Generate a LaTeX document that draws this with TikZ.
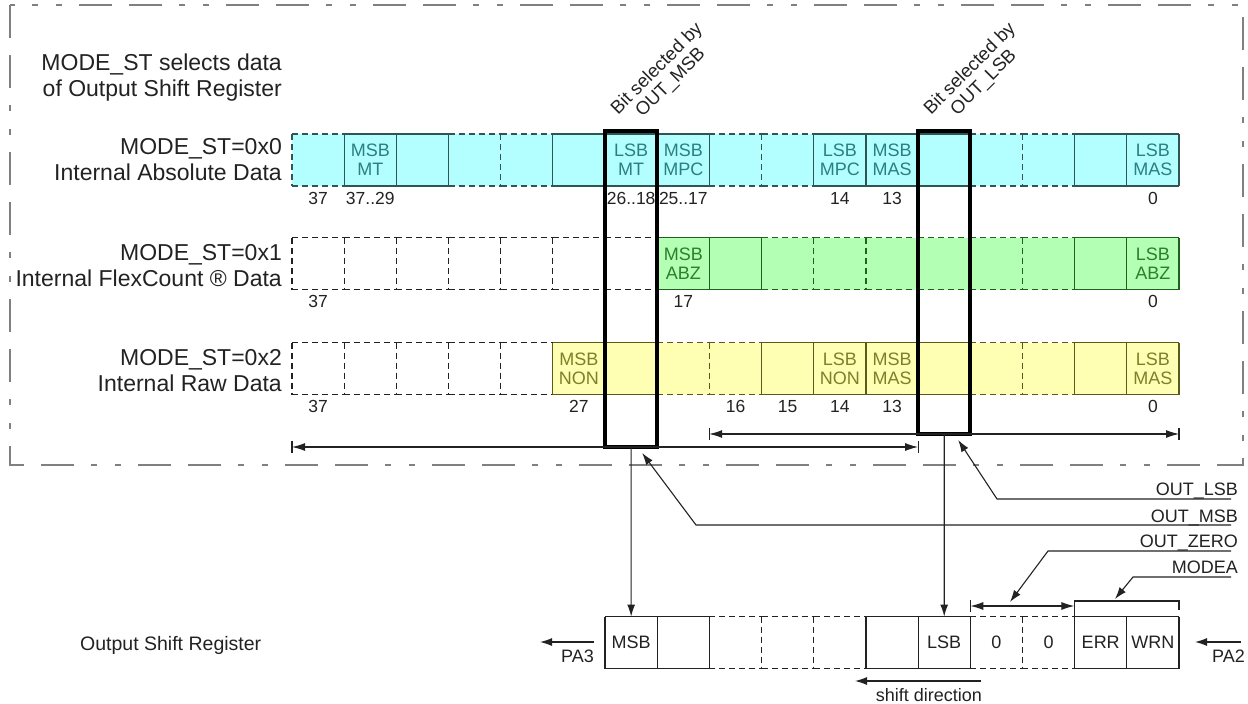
\documentclass[tikz,border=0pt]{standalone}
\usepackage{fontspec}
\setmainfont{Liberation Sans}
\usetikzlibrary{arrows.meta,calc}
\definecolor{cyanfill}{HTML}{B3FFFF}
\definecolor{cyanline}{HTML}{2F5555}
\definecolor{cyantext}{HTML}{2A7F80}
\definecolor{greenfill}{HTML}{B3FFB3}
\definecolor{greenline}{HTML}{1F601F}
\definecolor{greentext}{HTML}{2A7F2A}
\definecolor{yellowfill}{HTML}{FFFFB3}
\definecolor{yellowline}{HTML}{5A5A1A}
\definecolor{yellowtext}{HTML}{7F7F2A}
\definecolor{ink}{HTML}{222222}
\definecolor{framegray}{HTML}{808080}
\begin{document}
\begin{tikzpicture}[x=1pt,y=-1pt,
  every node/.style={text=ink},
  cell/.style={minimum width=52.1765pt, minimum height=52pt, inner sep=0pt, outer sep=0pt, draw=none},
  celltxt/.style={align=center, font=\fontsize{18}{19}\selectfont, inner sep=0pt},
  numlab/.style={font=\fontsize{17.5}{19}\selectfont, inner sep=0pt},
  leftlab/.style={font=\fontsize{23}{26}\selectfont, align=right, anchor=east, inner sep=0pt},
  leadtxt/.style={font=\fontsize{18}{19}\selectfont, anchor=base east, inner sep=0pt},
  bitsel/.style={font=\fontsize{18.5}{19.5}\selectfont, align=center, rotate=45, inner sep=0pt},
  dsh/.style={dash pattern=on 6pt off 4pt},
  celledge/.style={line width=1.2pt},
  selbox/.style={draw=black, line width=3.6pt, minimum width=52.1765pt, inner sep=0pt, outer sep=0pt},
  dimline/.style={draw=ink, line width=1.1pt},
  dimarr/.style={dimline, {Latex[length=13pt,width=8pt]}-{Latex[length=13pt,width=8pt]}},
  arr/.style={draw=ink, line width=1.1pt, -{Latex[length=12pt,width=8pt]}}
]
\useasboundingbox (0,0) rectangle (1248,704);

% frame
\draw[framegray, line width=1.2pt, dash pattern=on 33pt off 17pt on 33pt off 17pt on 6pt off 18pt on 6pt off 17pt] (10,5) rectangle (1243,465);

% left labels
\node[leftlab] (title) at (282,78) {MODE\_ST selects data\\of Output Shift Register};
\node[leftlab] (lab0) at (282,160) {MODE\_ST=0x0\\Internal Absolute Data};
\node[leftlab] (lab1) at (282,266) {MODE\_ST=0x1\\Internal FlexCount ® Data};
\node[leftlab] (lab2) at (282,370.5) {MODE\_ST=0x2\\Internal Raw Data};

% ---------------- row 1 (cyan)
\foreach \i in {0,...,16} \node[cell] (a\i) at ({292+52.1765*(\i+0.5)},160) {};
\fill[cyanfill] (a0.north west) rectangle (a16.south east);
\foreach \i in {0,3,4,8,9,13,14} \draw[cyanline, celledge, dsh] (a\i.north west) -- (a\i.north east) (a\i.south west) -- (a\i.south east);
\foreach \i in {1,2,5,6,7,10,11,12,15,16} \draw[cyanline, celledge] (a\i.north west) -- (a\i.north east) (a\i.south west) -- (a\i.south east);
\foreach \i in {0,4,9,14} \draw[cyanline, celledge, dsh] (a\i.north west) -- (a\i.south west);
\foreach \i in {1,2,3,5,6,7,8,10,11,12,13,15,16} \draw[cyanline, celledge] (a\i.north west) -- (a\i.south west);
\draw[cyanline, celledge] (a16.north east) -- (a16.south east);
\node[celltxt, text=cyantext] at (a1) {MSB\\MT};
\node[celltxt, text=cyantext] at (a6) {LSB\\MT};
\node[celltxt, text=cyantext] at (a7) {MSB\\MPC};
\node[celltxt, text=cyantext] at (a10) {LSB\\MPC};
\node[celltxt, text=cyantext] at (a11) {MSB\\MAS};
\node[celltxt, text=cyantext] at (a16) {LSB\\MAS};
\node[numlab] at ($(a0.south)+(0,12)$) {37};
\node[numlab] at ($(a1.south)+(0,12)$) {37..29};
\node[numlab] at ($(a6.south)+(0,12)$) {26..18};
\node[numlab] at ($(a7.south)+(0,12)$) {25..17};
\node[numlab] at ($(a10.south)+(0,12)$) {14};
\node[numlab] at ($(a11.south)+(0,12)$) {13};
\node[numlab] at ($(a16.south)+(0,12)$) {0};

% ---------------- row 2 (green)
\foreach \i in {0,...,16} \node[cell] (b\i) at ({292+52.1765*(\i+0.5)},263.5) {};
\fill[greenfill] (b7.north west) rectangle (b16.south east);
\foreach \i in {0,...,6} \draw[ink, celledge, dsh] (b\i.north west) -- (b\i.north east) (b\i.south west) -- (b\i.south east);
\foreach \i in {9,...,14} \draw[greenline, celledge, dsh] (b\i.north west) -- (b\i.north east) (b\i.south west) -- (b\i.south east);
\foreach \i in {7,8,15,16} \draw[greenline, celledge] (b\i.north west) -- (b\i.north east) (b\i.south west) -- (b\i.south east);
\foreach \i in {0,...,6} \draw[ink, celledge, dsh] (b\i.north west) -- (b\i.south west);
\foreach \i in {10,11,12,13,14} \draw[greenline, celledge, dsh] (b\i.north west) -- (b\i.south west);
\foreach \i in {7,8,9,15,16} \draw[greenline, celledge] (b\i.north west) -- (b\i.south west);
\draw[greenline, celledge] (b16.north east) -- (b16.south east);
\node[celltxt, text=greentext] at (b7) {MSB\\ABZ};
\node[celltxt, text=greentext] at (b16) {LSB\\ABZ};
\node[numlab] at ($(b0.south)+(0,12)$) {37};
\node[numlab] at ($(b7.south)+(0,12)$) {17};
\node[numlab] at ($(b16.south)+(0,12)$) {0};

% ---------------- row 3 (yellow)
\foreach \i in {0,...,16} \node[cell] (c\i) at ({292+52.1765*(\i+0.5)},368.5) {};
\fill[yellowfill] (c5.north west) rectangle (c16.south east);
\foreach \i in {0,...,4} \draw[ink, celledge, dsh] (c\i.north west) -- (c\i.north east) (c\i.south west) -- (c\i.south east);
\foreach \i in {7,8,13,14} \draw[yellowline, celledge, dsh] (c\i.north west) -- (c\i.north east) (c\i.south west) -- (c\i.south east);
\foreach \i in {5,6,9,10,11,12,15,16} \draw[yellowline, celledge] (c\i.north west) -- (c\i.north east) (c\i.south west) -- (c\i.south east);
\foreach \i in {0,...,4} \draw[ink, celledge, dsh] (c\i.north west) -- (c\i.south west);
\foreach \i in {8,14} \draw[yellowline, celledge, dsh] (c\i.north west) -- (c\i.south west);
\foreach \i in {5,6,7,9,10,11,12,13,15,16} \draw[yellowline, celledge] (c\i.north west) -- (c\i.south west);
\draw[yellowline, celledge] (c16.north east) -- (c16.south east);
\node[celltxt, text=yellowtext] at (c5) {MSB\\NON};
\node[celltxt, text=yellowtext] at (c10) {LSB\\NON};
\node[celltxt, text=yellowtext] at (c11) {MSB\\MAS};
\node[celltxt, text=yellowtext] at (c16) {LSB\\MAS};
\node[numlab] at ($(c0.south)+(0,12)$) {37};
\node[numlab] at ($(c5.south)+(0,12)$) {27};
\node[numlab] at ($(c8.south)+(0,12)$) {16};
\node[numlab] at ($(c9.south)+(0,12)$) {15};
\node[numlab] at ($(c10.south)+(0,12)$) {14};
\node[numlab] at ($(c11.south)+(0,12)$) {13};
\node[numlab] at ($(c16.south)+(0,12)$) {0};

% ---------------- output shift register
\foreach \i in {6,...,16} \node[cell] (r\i) at ({292+52.1765*(\i+0.5)},642.5) {};
\foreach \i in {8,9,10,13,14} \draw[ink, celledge, dsh] (r\i.north west) -- (r\i.north east) (r\i.south west) -- (r\i.south east);
\foreach \i in {6,7,11,12,15,16} \draw[ink, celledge] (r\i.north west) -- (r\i.north east) (r\i.south west) -- (r\i.south east);
\foreach \i in {9,10,14} \draw[ink, celledge, dsh] (r\i.north west) -- (r\i.south west);
\foreach \i in {6,7,8,11,12,13,15,16} \draw[ink, celledge] (r\i.north west) -- (r\i.south west);
\draw[ink, celledge] (r16.north east) -- (r16.south east);
\node[celltxt] at (r6) {MSB};
\node[celltxt] at (r12) {LSB};
\node[celltxt] at (r13) {0};
\node[celltxt] at (r14) {0};
\node[celltxt] at (r15) {ERR};
\node[celltxt] at (r16) {WRN};
\node[font=\fontsize{19.5}{22}\selectfont, anchor=base west, inner sep=0pt] (osr) at (80,650) {Output Shift Register};

% selection boxes
\node[selbox, minimum height=316pt] (msbsel) at (631.15,289) {};
\node[selbox, minimum height=303pt] (lsbsel) at (944.2,282.5) {};
\node[bitsel] (bitmsb) at (664,76) {Bit selected by\\OUT\_MSB};
\node[bitsel] (bitlsb) at (977,76) {Bit selected by\\OUT\_LSB};

% dimension arrows
\coordinate (d1a) at (292,447); \coordinate (d1b) at (918.1,447);
\draw[dimarr] (d1a) -- (d1b);
\draw[dimline] ($(d1a)+(0,-6)$) -- ($(d1a)+(0,6)$);
\draw[dimline] ($(d1b)+(0,-6)$) -- ($(d1b)+(0,6)$);
\coordinate (d2a) at (709.2,434); \coordinate (d2b) at (1179,434);
\draw[dimarr] (d2a) -- (d2b);
\draw[dimline] ($(d2a)+(0,-6)$) -- ($(d2a)+(0,6)$);
\draw[dimline] ($(d2b)+(0,-6)$) -- ($(d2b)+(0,6)$);
\coordinate (d3a) at (970.3,606); \coordinate (d3b) at (1074.4,606);
\draw[dimarr] (d3a) -- (d3b);
\draw[dimline] ($(d3a)+(0,-6)$) -- ($(d3a)+(0,6)$);
\coordinate (br1) at (1074.4,616); \coordinate (br2) at (1074.4,601);
\coordinate (br3) at (1179,601); \coordinate (br4) at (1179,610);
\draw[dimline] (br1) -- (br2) -- (br3) -- (br4);

% selection arrows to register
\draw[arr] (msbsel.south) -- (r6.north);
\draw[arr] (lsbsel.south) -- (r12.north);

% leader labels
\node[leadtxt] (outlsb) at (1238,495) {OUT\_LSB};
\node[leadtxt] (outmsb) at (1238,522) {OUT\_MSB};
\node[leadtxt] (outzero) at (1238,547) {OUT\_ZERO};
\node[leadtxt] (modea) at (1238,573) {MODEA};
\coordinate (lsbR) at (1231,499); \coordinate (lsbK) at (997,499);
\coordinate (lsbT) at ($(lsbsel.south)+(14,6)$);
\draw[arr] (lsbR) -- (lsbK) -- (lsbT);
\coordinate (msbR) at (1231,525); \coordinate (msbK) at (696,525);
\coordinate (msbT) at ($(msbsel.south)+(11,6)$);
\draw[arr] (msbR) -- (msbK) -- (msbT);
\coordinate (zeroR) at (1231,551); \coordinate (zeroK) at (1048,551);
\coordinate (zeroT) at (1010,602);
\draw[arr] (zeroR) -- (zeroK) -- (zeroT);
\coordinate (modeR) at (1231,577); \coordinate (modeK) at (1133,577);
\coordinate (modeT) at (1115,599);
\draw[arr] (modeR) -- (modeK) -- (modeT);

% PA3 / PA2
\coordinate (pa3s) at (594,642); \coordinate (pa3e) at (540,642);
\draw[arr] (pa3s) -- (pa3e);
\node[leadtxt] (pa3) at (594,662) {PA3};
\coordinate (pa2s) at (1241,642); \coordinate (pa2e) at (1195,642);
\draw[arr] (pa2s) -- (pa2e);
\node[leadtxt] (pa2) at (1245,662) {PA2};

% shift direction
\coordinate (sh1) at (981,681); \coordinate (sh2) at (855,681);
\draw[arr] (sh1) -- (sh2);
\node[font=\fontsize{18}{19}\selectfont, anchor=base, inner sep=0pt] (shift) at (929,701) {shift direction};
\end{tikzpicture}
\end{document}
